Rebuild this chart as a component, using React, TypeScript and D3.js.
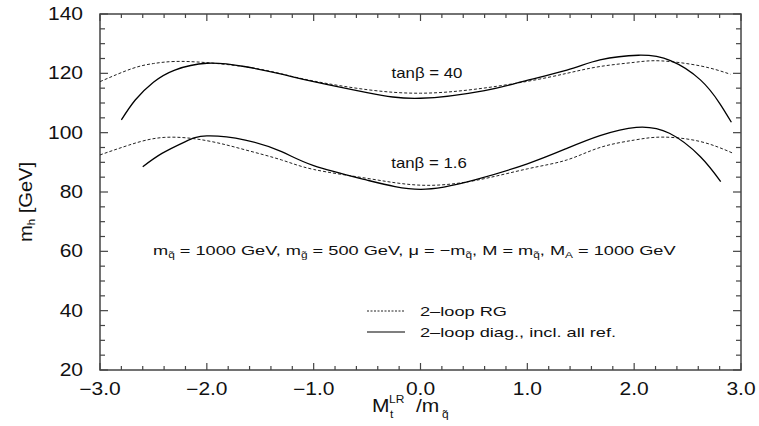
import React from 'react';
import * as d3 from 'd3';

// x = M_t^LR / m_q, y = m_h [GeV]
const rg40X = [-3.0, -2.7, -2.5, -2.3, -2.0, -1.6, -1.3, -1.0, -0.5, 0.0, 0.5, 1.0, 1.37, 1.68, 2.0, 2.25, 2.62, 2.9];
const rg40Y = [117.2, 121.6, 123.3, 124.0, 123.6, 122.0, 119.8, 117.4, 114.5, 113.3, 114.6, 117.3, 120.0, 122.3, 123.7, 124.2, 122.5, 119.7];

const diag40X = [-2.8, -2.67, -2.5, -2.3, -2.0, -1.65, -1.3, -1.0, -0.5, 0.0, 0.6, 0.93, 1.37, 1.68, 2.04, 2.34, 2.62, 2.8, 2.91];
const diag40Y = [104.3, 111.0, 117.0, 121.1, 123.4, 122.3, 119.7, 117.2, 113.5, 111.6, 114.2, 117.0, 121.1, 124.5, 126.1, 124.3, 117.8, 109.9, 103.5];

const rg16X = [-3.0, -2.73, -2.4, -2.0, -1.64, -1.3, -1.0, -0.5, 0.0, 0.5, 1.0, 1.37, 1.68, 2.0, 2.27, 2.62, 2.93];
const rg16Y = [92.5, 95.8, 98.4, 97.3, 94.2, 90.8, 87.6, 84.6, 82.3, 83.8, 87.8, 90.8, 95.0, 97.5, 98.5, 97.0, 93.0];

const diag16X = [-2.6, -2.42, -2.2, -2.0, -1.64, -1.3, -1.0, -0.5, 0.0, 0.5, 1.0, 1.37, 1.68, 2.02, 2.33, 2.62, 2.81];
const diag16Y = [88.5, 93.0, 97.0, 98.9, 97.5, 93.6, 88.9, 84.0, 80.9, 84.0, 89.5, 94.7, 99.0, 101.8, 99.8, 91.9, 83.5];

const xTicks = [-3, -2, -1, 0, 1, 2, 3];
const yTicks = [20, 40, 60, 80, 100, 120, 140];

const W = 759;
const H = 426;
const left = 100, right = 741, top = 14, bottom = 370;
const FONT = "'Liberation Sans', Arial, Helvetica, sans-serif";

// text that is stretched sideways like the original's postscript font
function T({ x, y, sx = 1.2, size, anchor = "start", children, rotate = 0 }: any) {
  return (
    <text
      transform={`translate(${x},${y}) rotate(${rotate}) scale(${sx},1)`}
      textAnchor={anchor}
      fontSize={size}
      fill="#111"
    >
      {children}
    </text>
  );
}

export default function App() {
  const x = d3.scaleLinear().domain([-3, 3]).range([left, right]);
  const y = d3.scaleLinear().domain([20, 140]).range([bottom, top]);

  const line = d3.line<[number, number]>()
    .x(d => x(d[0]))
    .y(d => y(d[1]))
    .curve(d3.curveNatural);

  const pts = (xs: number[], ys: number[]) => xs.map((v, i) => [v, ys[i]] as [number, number]);

  const xMinor = d3.range(-3, 3.0001, 0.2);
  const yMinor = d3.range(20, 140.0001, 5);
  const axisColor = "#444";
  const fmt = (v: number) => (v < 0 ? "\u2212" : "") + Math.abs(v).toFixed(1);

  return (
    <svg width={W} height={H} style={{ position: "absolute", left: 0, top: 0, background: "#fff" }} fontFamily={FONT}>
      {/* frame */}
      <rect x={left} y={top} width={right - left} height={bottom - top} fill="none" stroke={axisColor} strokeWidth={1.5} />

      {/* ticks on all four sides, pointing inward */}
      {xMinor.map((v, i) => {
        const major = Math.abs(v - Math.round(v)) < 1e-6;
        const len = major ? 7 : 4;
        return (
          <g key={"xt" + i} stroke={axisColor} strokeWidth={1.2}>
            <line x1={x(v)} x2={x(v)} y1={bottom} y2={bottom - len} />
            <line x1={x(v)} x2={x(v)} y1={top} y2={top + len} />
          </g>
        );
      })}
      {yMinor.map((v, i) => {
        const major = v % 20 === 0;
        const len = major ? 8 : 5;
        return (
          <g key={"yt" + i} stroke={axisColor} strokeWidth={1.2}>
            <line x1={left} x2={left + len} y1={y(v)} y2={y(v)} />
            <line x1={right} x2={right - len} y1={y(v)} y2={y(v)} />
          </g>
        );
      })}

      {xTicks.map(v => (
        <T key={"xl" + v} x={x(v)} y={bottom + 25} anchor="middle" size={17.5}>{fmt(v)}</T>
      ))}
      {yTicks.map(v => (
        <T key={"yl" + v} x={left - 17} y={y(v) + 6} anchor="end" size={17.5}>{v}</T>
      ))}

      {/* curves */}
      <path d={line(pts(rg40X, rg40Y)) || ""} fill="none" stroke="#222" strokeWidth={1} strokeDasharray="3,2" />
      <path d={line(pts(rg16X, rg16Y)) || ""} fill="none" stroke="#222" strokeWidth={1} strokeDasharray="3,2" />
      <path d={line(pts(diag40X, diag40Y)) || ""} fill="none" stroke="#000" strokeWidth={1.3} />
      <path d={line(pts(diag16X, diag16Y)) || ""} fill="none" stroke="#000" strokeWidth={1.3} />

      {/* curve labels */}
      <T x={427} y={78} anchor="middle" size={14}>tan{"\u03B2"} = 40</T>
      <T x={429} y={168} anchor="middle" size={14}>tan{"\u03B2"} = 1.6</T>

      {/* parameters */}
      <T x={153} y={255} sx={1.4} size={13}>
        m<tspan dy={3} fontSize={8.5}>q̃</tspan><tspan dy={-3}> = 1000 GeV, m</tspan>
        <tspan dy={3} fontSize={8.5}>g̃</tspan><tspan dy={-3}> = 500 GeV, {"\u03BC"} = {"\u2212"}m</tspan>
        <tspan dy={3} fontSize={8.5}>q̃</tspan><tspan dy={-3}>, M = m</tspan>
        <tspan dy={3} fontSize={8.5}>q̃</tspan><tspan dy={-3}>, M</tspan>
        <tspan dy={3} fontSize={8.5}>A</tspan><tspan dy={-3}> = 1000 GeV</tspan>
      </T>

      {/* legend */}
      <line x1={367} x2={405} y1={311} y2={311} stroke="#222" strokeWidth={1} strokeDasharray="2,1.5" />
      <T x={420} y={316} sx={1.4} size={13}>2{"\u2013"}loop RG</T>
      <line x1={367} x2={405} y1={332} y2={332} stroke="#000" strokeWidth={1.2} />
      <T x={420} y={337} sx={1.4} size={13}>2{"\u2013"}loop diag., incl. all ref.</T>

      {/* x axis title: M_t^LR /m_q */}
      <T x={372} y={412} size={17.5}>M</T>
      <T x={390} y={418} size={10}>t</T>
      <T x={389} y={403} size={10}>LR</T>
      <T x={416} y={412} size={17.5}>/m</T>
      <T x={442} y={418} size={10}>q̃</T>

      {/* y axis title */}
      <T x={32} y={202} sx={1.15} size={17.5} anchor="middle" rotate={-90}>
        m<tspan dy={3} fontSize={10}>h</tspan><tspan dy={-3}> [GeV]</tspan>
      </T>
    </svg>
  );
}
